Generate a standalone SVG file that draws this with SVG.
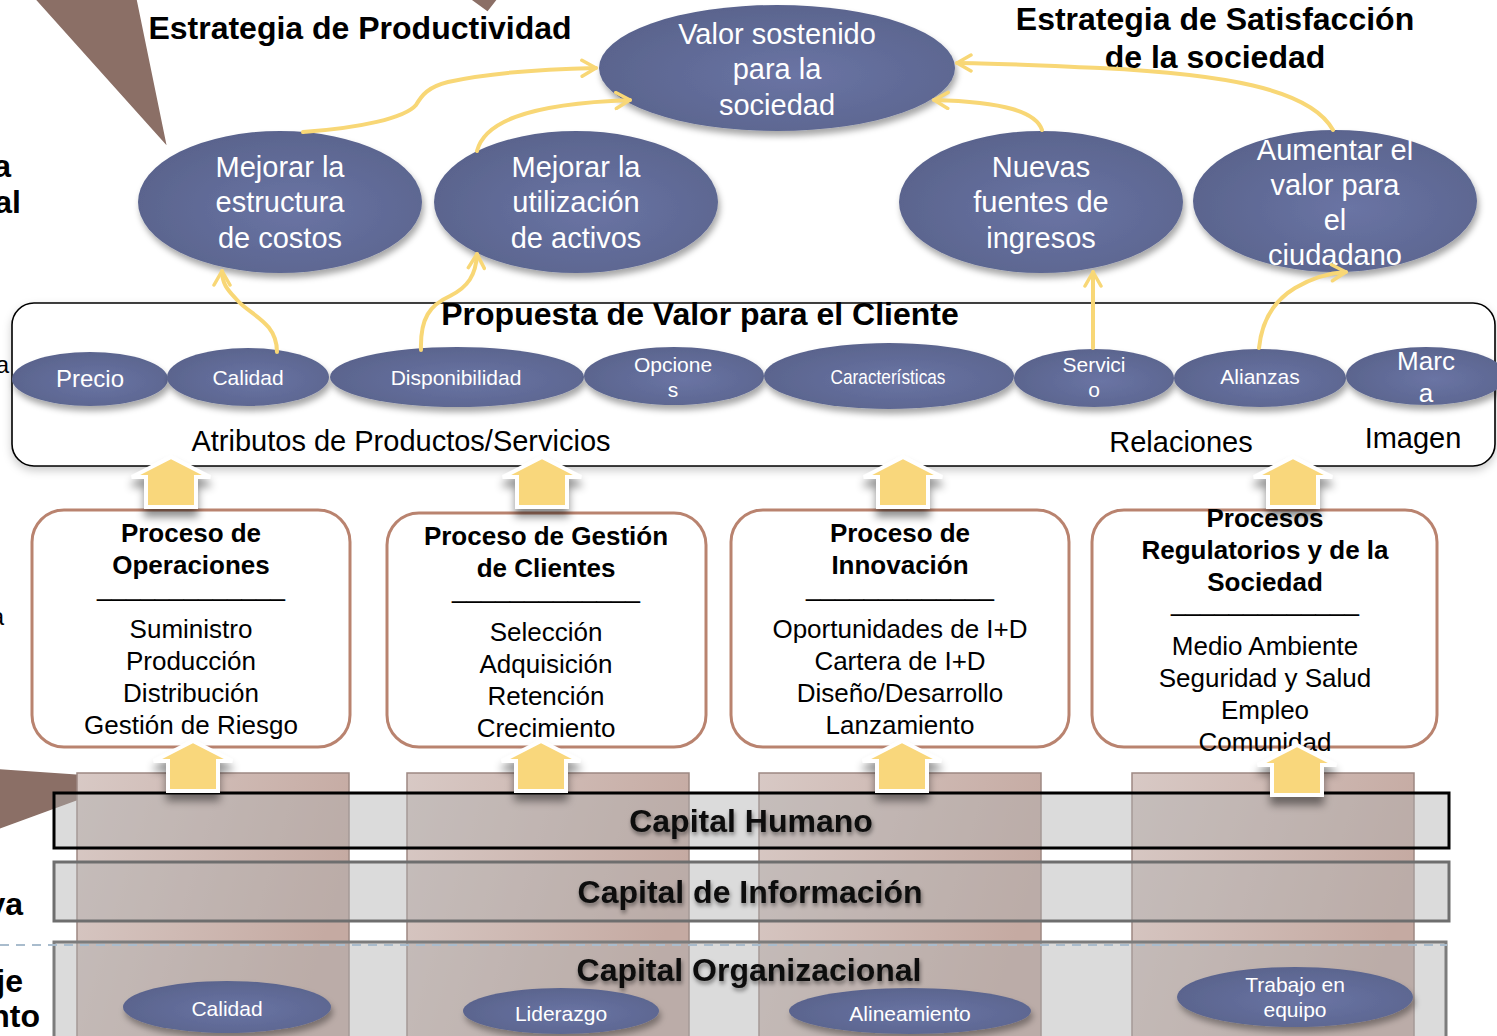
<svg xmlns="http://www.w3.org/2000/svg" xmlns:xlink="http://www.w3.org/1999/xlink" width="1497" height="1036" viewBox="0 0 1497 1036">
<defs>
<style>
text{font-family:"Liberation Sans",Arial,sans-serif;}
.title{font-size:32px;font-weight:bold;fill:#000;}
.ov{fill:url(#ovalGrad);filter:url(#shadow);}
.ovt{fill:#fff;font-size:29px;text-anchor:middle;}
.smt{fill:#fff;font-size:21px;text-anchor:middle;}
.pbox{fill:#fff;stroke:#b9836f;stroke-width:3;}
.pt{font-size:26px;text-anchor:middle;fill:#000;}
.pb{font-size:26px;font-weight:bold;text-anchor:middle;fill:#000;}
.lbl{font-size:29px;text-anchor:middle;fill:#000;}
.conn{fill:none;stroke:#f8d776;stroke-width:4;stroke-linecap:round;marker-end:url(#chev);}
.col{fill:url(#colGrad);stroke:#9d8882;stroke-width:1.5;}
.band{fill:#b0b0b0;fill-opacity:0.45;stroke-width:3;}
.bandt{font-size:32px;font-weight:bold;text-anchor:middle;fill:#111;filter:url(#tshadow);}
.ptr{fill:#8b6f66;stroke:#fff;stroke-width:4;}
.barrow{fill:#f9d77b;stroke:#fff;stroke-width:4;stroke-linejoin:miter;filter:url(#ashadow);}
.edge{font-size:32px;font-weight:bold;text-anchor:end;fill:#000;}
.edger{font-size:24px;text-anchor:end;fill:#000;}
</style>
<radialGradient id="ovalGrad" cx="55%" cy="55%" r="60%">
<stop offset="0" stop-color="#6a74a4"/>
<stop offset="1" stop-color="#59638c"/>
</radialGradient>
<linearGradient id="colGrad" x1="0" y1="0" x2="1" y2="0.3">
<stop offset="0" stop-color="#d8c9c5"/>
<stop offset="1" stop-color="#c5aaa2"/>
</linearGradient>
<filter id="shadow" x="-20%" y="-20%" width="140%" height="150%">
<feDropShadow dx="2" dy="5" stdDeviation="3" flood-color="#000" flood-opacity="0.35"/>
</filter>
<filter id="ashadow" x="-50%" y="-30%" width="200%" height="180%">
<feDropShadow dx="0" dy="8" stdDeviation="4" flood-color="#000" flood-opacity="0.45"/>
</filter>
<filter id="tshadow" x="-10%" y="-30%" width="120%" height="170%">
<feDropShadow dx="1" dy="3" stdDeviation="2" flood-color="#000" flood-opacity="0.45"/>
</filter>
<filter id="bshadow" x="-5%" y="-10%" width="110%" height="130%">
<feDropShadow dx="0" dy="4" stdDeviation="4" flood-color="#000" flood-opacity="0.2"/>
</filter>
<marker id="chev" viewBox="0 0 20 20" refX="17" refY="10" markerWidth="20" markerHeight="20" markerUnits="userSpaceOnUse" orient="auto">
<path d="M3,2 L17,10 L3,18" fill="none" stroke="#f8d776" stroke-width="3.5" stroke-linecap="round" stroke-linejoin="round"/>
</marker>
<polygon id="blk" points="0,0 39,20 25,20 25,50 -25,50 -25,20 -39,20"/>
</defs>

<rect width="1497" height="1036" fill="#fff"/>

<!-- pointer callouts and cut-off edge texts -->
<g id="pointers">
<polygon class="ptr" points="30,-4 138,-4 170,152"/>
<polygon class="ptr" points="463,-4 488,14 502,-4"/>
<polygon class="ptr" points="-4,767 84,773 84,800 -4,832"/>
</g>
<g id="edge-texts">
<text class="edge" x="11" y="177">a</text>
<text class="edge" x="21" y="213">al</text>
<text class="edger" x="9" y="373">a</text>
<text class="edger" x="4" y="625">a</text>
<text class="edge" x="23" y="915">va</text>
<text class="edge" x="23" y="992">je</text>
<text class="edge" x="40" y="1027">nto</text>
</g>

<!-- titles -->
<g id="titles">
<text class="title" x="360" y="39" text-anchor="middle">Estrategia de Productividad</text>
<text class="title" x="1215" y="30" text-anchor="middle">Estrategia de Satisfacción</text>
<text class="title" x="1215" y="68" text-anchor="middle">de la sociedad</text>
</g>

<!-- customer value proposition -->
<g id="propuesta">
<rect x="12" y="303" width="1483" height="163" rx="22" fill="#fff" stroke="#000" stroke-width="1.6" filter="url(#bshadow)"/>
<text class="title" x="700" y="325" text-anchor="middle">Propuesta de Valor para el Cliente</text>
<text class="lbl" x="401" y="451">Atributos de Productos/Servicios</text>
<text class="lbl" x="1181" y="452">Relaciones</text>
<text class="lbl" x="1413" y="448">Imagen</text>
</g>
<g id="attr-precio"><ellipse class="ov" cx="90" cy="379" rx="78" ry="27"/><text class="smt" x="90" y="387" style="font-size:24px">Precio</text></g>
<g id="attr-calidad"><ellipse class="ov" cx="248" cy="377" rx="81" ry="29"/><text class="smt" x="248" y="385">Calidad</text></g>
<g id="attr-disponibilidad"><ellipse class="ov" cx="457" cy="377" rx="127" ry="30"/><text class="smt" x="456" y="385">Disponibilidad</text></g>
<g id="attr-opciones"><ellipse class="ov" cx="674" cy="376" rx="90" ry="29"/><text class="smt" x="673" y="372">Opcione</text><text class="smt" x="673" y="397">s</text></g>
<g id="attr-caracteristicas"><ellipse class="ov" cx="889" cy="376" rx="125" ry="33"/><text class="smt" x="888" y="384" textLength="115" lengthAdjust="spacingAndGlyphs">Características</text></g>
<g id="attr-servicio"><ellipse class="ov" cx="1094" cy="378" rx="80" ry="29"/><text class="smt" x="1094" y="372">Servici</text><text class="smt" x="1094" y="397">o</text></g>
<g id="attr-alianzas"><ellipse class="ov" cx="1260" cy="378" rx="86" ry="29"/><text class="smt" x="1260" y="384">Alianzas</text></g>
<g id="attr-marca"><ellipse class="ov" cx="1426" cy="376" rx="80" ry="29"/><text class="smt" x="1426" y="370" style="font-size:26px">Marc</text><text class="smt" x="1426" y="402" style="font-size:26px">a</text></g>

<!-- learning and growth: columns and bands -->
<g id="columns">
<rect class="col" x="77" y="773" width="272" height="275"/>
<rect class="col" x="407" y="773" width="282" height="275"/>
<rect class="col" x="759" y="773" width="282" height="275"/>
<rect class="col" x="1132" y="773" width="282" height="275"/>
</g>
<g id="capital-humano">
<rect class="band" x="54" y="793" width="1395" height="55" stroke="#000"/>
<text class="bandt" x="751" y="832">Capital Humano</text>
</g>
<g id="capital-informacion">
<rect class="band" x="54" y="862" width="1395" height="59" stroke="#6e6e6e"/>
<text class="bandt" x="750" y="903">Capital de Información</text>
</g>
<g id="capital-organizacional">
<rect class="band" x="54" y="942" width="1392" height="100" stroke="#7c7c7c"/>
<text class="bandt" x="749" y="981">Capital Organizacional</text>
</g>
<line x1="0" y1="945" x2="1447" y2="945" stroke="#a9bccd" stroke-width="2" stroke-dasharray="9,7"/>
<g id="org-calidad"><ellipse class="ov" cx="227" cy="1007" rx="104" ry="26"/><text class="smt" x="227" y="1016">Calidad</text></g>
<g id="org-liderazgo"><ellipse class="ov" cx="561" cy="1011" rx="98" ry="23"/><text class="smt" x="561" y="1021">Liderazgo</text></g>
<g id="org-alineamiento"><ellipse class="ov" cx="910" cy="1011" rx="121" ry="23"/><text class="smt" x="910" y="1021">Alineamiento</text></g>
<g id="org-trabajo"><ellipse class="ov" cx="1295" cy="997" rx="118" ry="30"/><text class="smt" x="1295" y="992">Trabajo en</text><text class="smt" x="1295" y="1017">equipo</text></g>

<!-- internal processes -->
<g id="proc-operaciones">
<rect class="pbox" x="32" y="510" width="318" height="237" rx="32"/>
<text class="pb" x="191" y="542">Proceso de</text>
<text class="pb" x="191" y="574">Operaciones</text>
<text class="pt" x="191" y="596">_____________</text>
<text class="pt" x="191" y="638">Suministro</text>
<text class="pt" x="191" y="670">Producción</text>
<text class="pt" x="191" y="702">Distribución</text>
<text class="pt" x="191" y="734">Gestión de Riesgo</text>
</g>
<g id="proc-clientes">
<rect class="pbox" x="387" y="513" width="319" height="234" rx="32"/>
<text class="pb" x="546" y="545">Proceso de Gestión</text>
<text class="pb" x="546" y="577">de Clientes</text>
<text class="pt" x="546" y="598">_____________</text>
<text class="pt" x="546" y="641">Selección</text>
<text class="pt" x="546" y="673">Adquisición</text>
<text class="pt" x="546" y="705">Retención</text>
<text class="pt" x="546" y="737">Crecimiento</text>
</g>
<g id="proc-innovacion">
<rect class="pbox" x="731" y="510" width="338" height="237" rx="32"/>
<text class="pb" x="900" y="542">Proceso de</text>
<text class="pb" x="900" y="574">Innovación</text>
<text class="pt" x="900" y="596">_____________</text>
<text class="pt" x="900" y="638">Oportunidades de I+D</text>
<text class="pt" x="900" y="670">Cartera de I+D</text>
<text class="pt" x="900" y="702">Diseño/Desarrollo</text>
<text class="pt" x="900" y="734">Lanzamiento</text>
</g>
<g id="proc-regulatorios">
<rect class="pbox" x="1092" y="510" width="345" height="237" rx="32"/>
<text class="pb" x="1265" y="527">Procesos</text>
<text class="pb" x="1265" y="559">Regulatorios y de la</text>
<text class="pb" x="1265" y="591">Sociedad</text>
<text class="pt" x="1265" y="611">_____________</text>
<text class="pt" x="1265" y="655">Medio Ambiente</text>
<text class="pt" x="1265" y="687">Seguridad y Salud</text>
<text class="pt" x="1265" y="719">Empleo</text>
<text class="pt" x="1265" y="751">Comunidad</text>
</g>

<!-- financial / stakeholder objectives -->
<g id="obj-valor"><ellipse class="ov" cx="777" cy="68" rx="178" ry="63"/>
<text class="ovt" x="777" y="44">Valor sostenido</text><text class="ovt" x="777" y="79">para la</text><text class="ovt" x="777" y="115">sociedad</text></g>
<g id="obj-costos"><ellipse class="ov" cx="280" cy="202" rx="142" ry="71"/>
<text class="ovt" x="280" y="177">Mejorar la</text><text class="ovt" x="280" y="212">estructura</text><text class="ovt" x="280" y="248">de costos</text></g>
<g id="obj-activos"><ellipse class="ov" cx="576" cy="202" rx="142" ry="71"/>
<text class="ovt" x="576" y="177">Mejorar la</text><text class="ovt" x="576" y="212">utilización</text><text class="ovt" x="576" y="248">de activos</text></g>
<g id="obj-ingresos"><ellipse class="ov" cx="1041" cy="202" rx="142" ry="71"/>
<text class="ovt" x="1041" y="177">Nuevas</text><text class="ovt" x="1041" y="212">fuentes de</text><text class="ovt" x="1041" y="248">ingresos</text></g>
<g id="obj-ciudadano"><ellipse class="ov" cx="1335" cy="201" rx="142" ry="71"/>
<text class="ovt" x="1335" y="160">Aumentar el</text><text class="ovt" x="1335" y="195">valor para</text><text class="ovt" x="1335" y="230">el</text><text class="ovt" x="1335" y="265">ciudadano</text></g>

<!-- connectors -->
<g id="connectors">
<use href="#blk" class="barrow" x="171" y="457"/>
<use href="#blk" class="barrow" x="542" y="457"/>
<use href="#blk" class="barrow" x="903" y="457"/>
<use href="#blk" class="barrow" x="1293" y="457"/>
<use href="#blk" class="barrow" x="193" y="741"/>
<use href="#blk" class="barrow" x="541" y="741"/>
<use href="#blk" class="barrow" x="902" y="741"/>
<use href="#blk" class="barrow" x="1297" y="745"/>
<path class="conn" d="M303,132 C360,128 405,118 416,105 C422,95 428,87 448,82 C492,72 550,69 596,68"/>
<path class="conn" d="M477,151 C484,124 522,104 630,100"/>
<path class="conn" d="M1042,130 C1036,112 1005,102 934,100"/>
<path class="conn" d="M1333,130 C1310,88 1220,74 1100,68 C1030,65 990,63 957,63"/>
<path class="conn" d="M277,352 C277,322 250,315 237,300 C229,291 222,285 222,271"/>
<path class="conn" d="M421,350 C420,318 430,305 450,296 C468,287 476,275 477,254"/>
<path class="conn" d="M1093,348 L1093,272"/>
<path class="conn" d="M1259,348 C1262,318 1275,300 1295,288 C1312,278 1328,273 1346,272"/>
</g>
</svg>
